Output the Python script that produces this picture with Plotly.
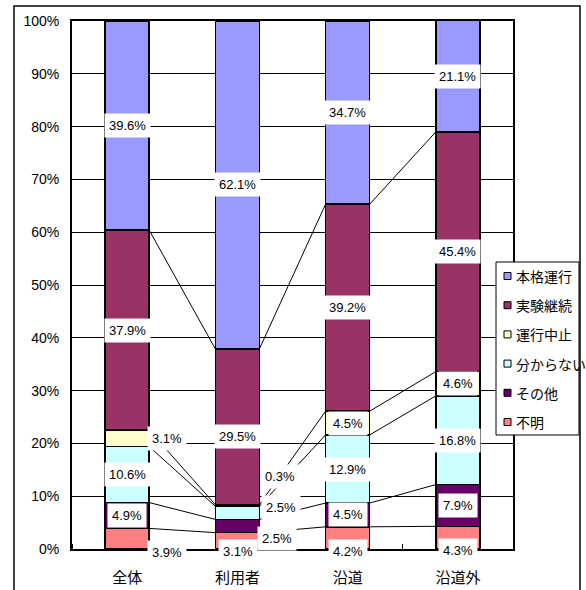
import plotly.graph_objects as go

# Survey results: share of answers per respondent group (%)
categories = ["全体", "利用者", "沿道", "沿道外"]
series_names = ["本格運行", "実験継続", "運行中止", "分からない", "その他", "不明"]
honkaku = [39.6, 62.1, 34.7, 21.1]
jikken = [37.9, 29.5, 39.2, 45.4]
chushi = [3.1, 0.3, 4.5, 4.6]
wakaranai = [10.6, 2.5, 12.9, 16.8]
sonota = [4.9, 2.5, 4.5, 7.9]
fumei = [3.9, 3.1, 4.2, 4.3]
y_ticks = [0, 10, 20, 30, 40, 50, 60, 70, 80, 90, 100]
y_tick_labels = ["0%", "10%", "20%", "30%", "40%", "50%", "60%", "70%", "80%", "90%", "100%"]

series_values = [honkaku, jikken, chushi, wakaranai, sonota, fumei]
series_colors = ["#9999FF", "#993366", "#FFFFCC", "#CCFFFF", "#660066", "#FF8080"]

NUM_FONT = "Liberation Sans, Arial, sans-serif"
JP_FONT = "Noto Sans CJK JP, sans-serif"

# plot area in pixels
W, H = 586, 590
L, R, T, B = 72, 513, 21, 549
BAR_W = 0.4


def px(x):
    return (x - L) / (R - L)


def py(y):
    return (B - y) / (B - T)


fig = go.Figure()

# stacked bottom-up: 不明 first, 本格運行 last
stack_order = list(range(len(series_names)))[::-1]
xs = list(range(len(categories)))

for si in stack_order:
    fig.add_trace(go.Bar(
        x=xs, y=series_values[si], width=BAR_W, name=series_names[si],
        marker=dict(color=series_colors[si], line=dict(color="black", width=1.6)),
        showlegend=False, hoverinfo="skip",
    ))

# cumulative tops for each group
cum = []
for ci in xs:
    tops, acc = [], 0.0
    for si in stack_order:
        acc += series_values[si][ci]
        tops.append(acc)
    cum.append(tops)

# series lines joining segment boundaries of neighbouring bars
for k in range(len(stack_order) - 1):
    for ci in xs[:-1]:
        fig.add_trace(go.Scatter(
            x=[ci + BAR_W / 2, ci + 1 - BAR_W / 2],
            y=[cum[ci][k], cum[ci + 1][k]],
            mode="lines", line=dict(color="black", width=1),
            showlegend=False, hoverinfo="skip",
        ))

# label placement tweaks (pixels) for small segments
label_shift = {
    (0, "運行中止"): (40, 0),
    (0, "不明"): (40, -14),
    (1, "実験継続"): (0, -10),
    (1, "運行中止"): (43, 29),
    (1, "分からない"): (44, 5),
    (1, "その他"): (40, -12),
    (1, "不明"): (1, -11),
    (2, "不明"): (0, -14),
    (3, "不明"): (0, -13),
}

for ci in xs:
    base = 0.0
    for si in stack_order:
        v = series_values[si][ci]
        dx, dy = label_shift.get((ci, series_names[si]), (0, 0))
        fig.add_annotation(
            x=ci, y=base + v / 2, xref="x", yref="y",
            text=f"{v:.1f}%", showarrow=False,
            font=dict(family=NUM_FONT, size=13, color="black"),
            bgcolor="white", borderpad=4,
            xshift=dx, yshift=dy,
        )
        base += v

# legend box
lx0, lx1, ly0, ly1 = 496, 579, 262, 435
fig.add_shape(type="rect", xref="paper", yref="paper",
              x0=px(lx0), x1=px(lx1), y0=py(ly1), y1=py(ly0),
              line=dict(color="black", width=1), fillcolor="white", layer="above")
for i, (name, col) in enumerate(zip(series_names, series_colors)):
    yc = 276 + i * 29.2
    fig.add_shape(type="rect", xref="paper", yref="paper",
                  x0=px(504), x1=px(511), y0=py(yc + 3.5), y1=py(yc - 3.5),
                  line=dict(color="black", width=1), fillcolor=col, layer="above")
    fig.add_annotation(x=px(514), y=py(yc), xref="paper", yref="paper",
                       text=name, showarrow=False, xanchor="left", yanchor="middle",
                       font=dict(family=JP_FONT, size=14, color="black"))

# outer frame
fig.add_shape(type="rect", xref="paper", yref="paper",
              x0=px(14), x1=px(580), y0=py(605), y1=py(6),
              line=dict(color="black", width=1.5), layer="below")

fig.update_layout(
    width=W, height=H,
    margin=dict(l=L, r=W - R, t=T, b=H - B),
    paper_bgcolor="white", plot_bgcolor="white",
    barmode="stack", showlegend=False,
    xaxis=dict(
        range=[-0.5, len(categories) - 0.5],
        tickmode="array", tickvals=xs, ticktext=categories, ticks="",
        tickfont=dict(family=JP_FONT, size=15, color="black"),
        ticklabelstandoff=14, automargin=False,
        minor=dict(tick0=0.5, dtick=1, ticks="inside", ticklen=5,
                   tickcolor="black", tickwidth=1, showgrid=False),
        showline=True, linecolor="black", linewidth=2, mirror=True,
        showgrid=False, zeroline=False, fixedrange=True,
    ),
    yaxis=dict(
        range=[0, 100], tickmode="array", tickvals=y_ticks, ticktext=y_tick_labels,
        tickfont=dict(family=NUM_FONT, size=14, color="black"),
        ticks="", ticklabelstandoff=8, automargin=False,
        showgrid=True, gridcolor="black", gridwidth=1,
        showline=True, linecolor="black", linewidth=2, mirror=True,
        zeroline=False, fixedrange=True,
    ),
)

fig.write_html("out.html")
